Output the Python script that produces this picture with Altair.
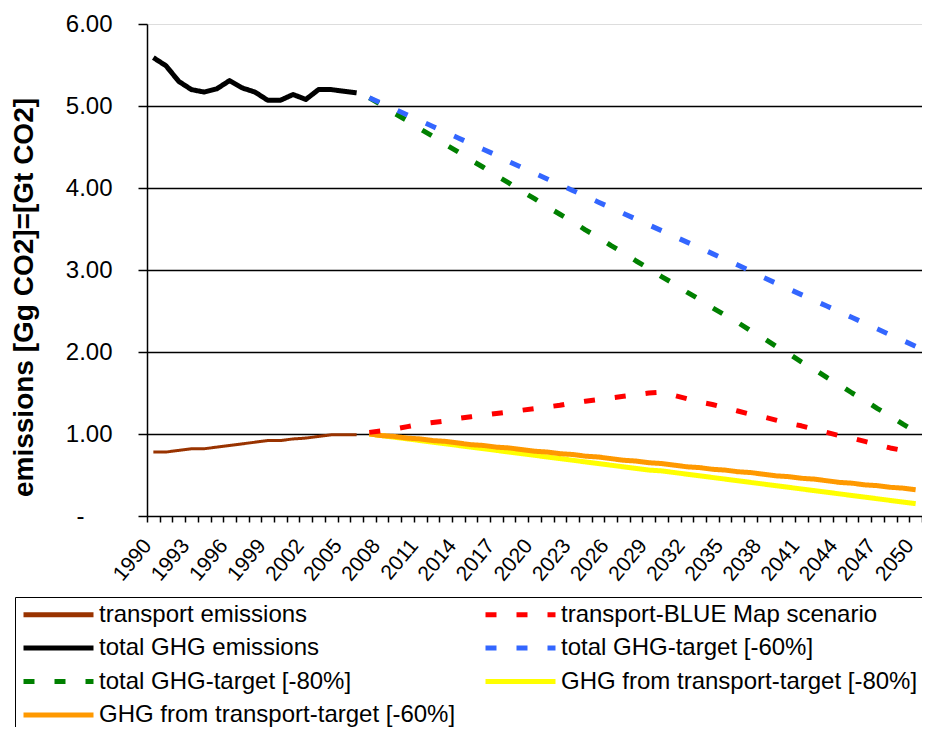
import altair as alt
import pandas as pd

# ---- categories ----
years_all = list(range(1990, 2051))
years_hist = list(range(1990, 2007))
years_proj = list(range(2007, 2051))
y_ticks = [0, 1, 2, 3, 4, 5, 6]

# ---- series values (Gt CO2) ----
transport_emissions = [0.78, 0.78, 0.80, 0.82, 0.82, 0.84, 0.86, 0.88, 0.90,
                       0.92, 0.92, 0.94, 0.95, 0.97, 0.99, 0.99, 0.99]
total_ghg = [5.59, 5.49, 5.30, 5.20, 5.17, 5.21, 5.31, 5.22, 5.17,
             5.07, 5.07, 5.14, 5.08, 5.20, 5.20, 5.18, 5.16]
blue_map = [1.02, 1.04, 1.06, 1.09, 1.12, 1.14, 1.16, 1.19, 1.21, 1.23,
            1.25, 1.27, 1.29, 1.31, 1.33, 1.35, 1.38, 1.40, 1.42, 1.44,
            1.46, 1.48, 1.50, 1.51,
            1.47, 1.43, 1.39, 1.36, 1.32, 1.28, 1.24, 1.21, 1.17, 1.13,
            1.10, 1.06, 1.02, 0.98, 0.95, 0.91, 0.87, 0.83, 0.80, 0.76]
total_target_60 = [5.10, 5.03, 4.96, 4.89, 4.82, 4.75, 4.68, 4.61, 4.54, 4.47,
                   4.40, 4.32, 4.25, 4.18, 4.11, 4.04, 3.97, 3.90, 3.83, 3.76,
                   3.69, 3.62, 3.55, 3.48, 3.41, 3.34, 3.27, 3.20, 3.13, 3.06,
                   2.99, 2.91, 2.84, 2.77, 2.70, 2.63, 2.56, 2.49, 2.42, 2.35,
                   2.28, 2.21, 2.14, 2.07]
total_target_80 = [5.10, 5.01, 4.91, 4.82, 4.72, 4.63, 4.53, 4.44, 4.34, 4.25,
                   4.15, 4.06, 3.96, 3.87, 3.77, 3.68, 3.59, 3.49, 3.40, 3.30,
                   3.21, 3.11, 3.02, 2.92, 2.83, 2.73, 2.64, 2.54, 2.45, 2.36,
                   2.26, 2.17, 2.07, 1.98, 1.88, 1.79, 1.69, 1.60, 1.50, 1.41,
                   1.31, 1.22, 1.12, 1.03]
transport_target_80 = [1.00, 0.98, 0.96, 0.94, 0.92, 0.90, 0.88, 0.86, 0.84, 0.82,
                       0.80, 0.78, 0.76, 0.74, 0.72, 0.70, 0.68, 0.66, 0.64, 0.62,
                       0.60, 0.58, 0.56, 0.55, 0.53, 0.51, 0.49, 0.47, 0.45, 0.43,
                       0.41, 0.39, 0.37, 0.35, 0.33, 0.31, 0.29, 0.27, 0.25, 0.23,
                       0.21, 0.19, 0.17, 0.15]
transport_target_60 = [1.00, 0.98, 0.97, 0.95, 0.94, 0.92, 0.91, 0.89, 0.87, 0.86,
                       0.84, 0.83, 0.81, 0.79, 0.78, 0.76, 0.75, 0.73, 0.72, 0.70,
                       0.68, 0.67, 0.65, 0.64, 0.62, 0.60, 0.59, 0.57, 0.56, 0.54,
                       0.53, 0.51, 0.49, 0.48, 0.46, 0.45, 0.43, 0.41, 0.40, 0.38,
                       0.37, 0.35, 0.34, 0.32]

# ---- legend order / styles ----
series_names = ["transport emissions", "transport-BLUE Map scenario",
                "total GHG emissions", "total GHG-target [-60%]",
                "total GHG-target [-80%]", "GHG from transport-target [-80%]",
                "GHG from transport-target [-60%]"]
series_colors = ["#993300", "#FF0000", "#000000", "#3366FF",
                 "#008000", "#FFFF00", "#FF9900"]
series_dash = [[1, 0], [11, 20], [1, 0], [11, 20], [11, 20], [1, 0], [1, 0]]

# drawing order (bottom -> top)
draw = [
    ("transport emissions", years_hist, transport_emissions),
    ("total GHG emissions", years_hist, total_ghg),
    ("GHG from transport-target [-80%]", years_proj, transport_target_80),
    ("GHG from transport-target [-60%]", years_proj, transport_target_60),
    ("total GHG-target [-80%]", years_proj, total_target_80),
    ("total GHG-target [-60%]", years_proj, total_target_60),
    ("transport-BLUE Map scenario", years_proj, blue_map),
]
rows = []
for order, (name, yrs, vals) in enumerate(draw):
    for yr, v in zip(yrs, vals):
        rows.append({"series": name, "year": yr, "value": v, "ord": order})
df = pd.DataFrame(rows)

FONT = "Liberation Sans"

color_scale = alt.Scale(domain=series_names, range=series_colors)
dash_scale = alt.Scale(domain=series_names, range=series_dash)

legend = alt.Legend(
    title=None, orient="none", legendX=-132, legendY=573,
    direction="horizontal", columns=2, columnPadding=27, rowPadding=8.5,
    symbolType="stroke", symbolSize=4900, symbolStrokeWidth=5,
    clipHeight=23, labelFontSize=24, labelFont=FONT, labelColor="black",
    labelLimit=0, labelOffset=3, padding=6,
    strokeColor="black", fillColor="white",
)

x_enc = alt.X(
    "year:O",
    scale=alt.Scale(type="band", domain=years_all, paddingInner=0, paddingOuter=0),
    bandPosition=0.5,
    axis=alt.Axis(
        title=None, tickBand="extent", labelAngle=-50, labelAlign="right",
        labelBaseline="middle", labelFontSize=21, labelFont=FONT,
        labelColor="black",
        labelExpr="datum.value % 3 == 1 ? datum.label : ''",
        labelPadding=20, labelOffset=-6, labelOverlap=False,
        tickSize=6, tickColor="black", tickWidth=1.5,
        domainColor="black", domainWidth=1.5, grid=False,
    ),
)

y_enc = alt.Y(
    "value:Q",
    scale=alt.Scale(domain=[0, 6], nice=False, zero=True),
    axis=alt.Axis(
        title="emissions [Gg CO2]=[Gt CO2]", values=y_ticks,
        labelExpr="datum.value == 0 ? '-' : format(datum.value, '.2f')",
        labelFontSize=24, labelFont=FONT, labelColor="black",
        labelPadding={"condition": {"test": "datum.value == 0", "value": 54}, "value": 26},
        tickSize=9, tickColor="black", tickWidth=1.5,
        domainColor="black", domainWidth=1.5,
        grid=True, gridColor="black", gridWidth=1.5,
        gridOpacity={"condition": {"test": "datum.value >= 6 || datum.value <= 0", "value": 0}, "value": 1},
        titleFontSize=28, titleFontWeight="bold", titleFont=FONT, titleColor="black",
        titleX=-123, titleY=273, titleAlign="center", titleBaseline="middle",
        titleAngle=270,
    ),
)

base = alt.Chart(df).encode(
    x=x_enc,
    y=y_enc,
    color=alt.Color("series:N", scale=color_scale, legend=legend),
    strokeDash=alt.StrokeDash("series:N", scale=dash_scale, legend=legend),
    detail="series:N",
)

thin = base.transform_filter(alt.datum.series == "transport emissions").mark_line(
    strokeWidth=3, strokeCap="butt", strokeJoin="round")
thick = base.transform_filter(alt.datum.series != "transport emissions").mark_line(
    strokeWidth=5, strokeCap="butt", strokeJoin="round")

chart = alt.layer(thin, thick).properties(
    width=775, height=492,
    autosize=alt.AutoSizeParams(type="none"),
    padding={"left": 139, "top": 16, "right": 0, "bottom": 211},
    background="white",
).configure_view(stroke=None).configure(font=FONT)

chart.save("out.html", embed_options={"renderer": "svg", "actions": False})
